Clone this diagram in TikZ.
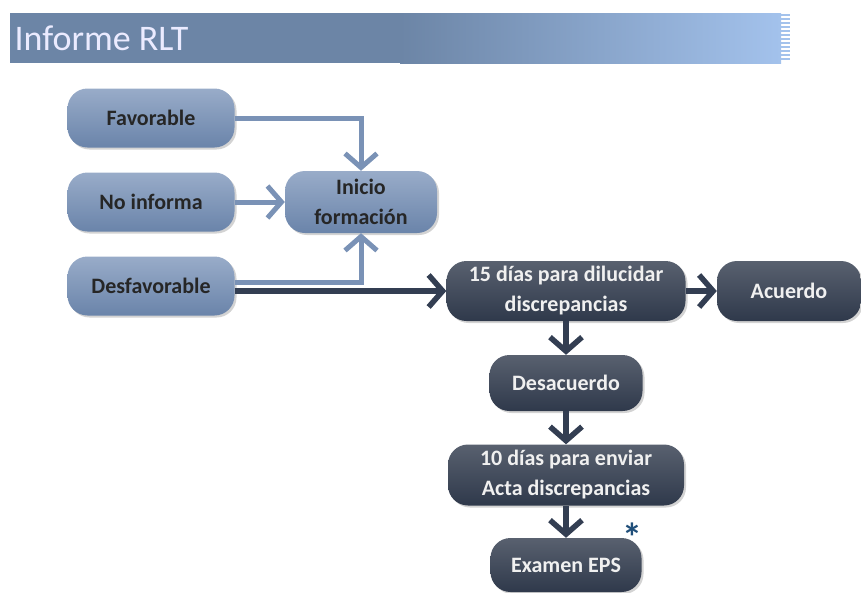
\documentclass[tikz,border=0pt]{standalone}
\usepackage{fontspec}
\setmainfont{Carlito}
\usetikzlibrary{shapes.geometric, arrows.meta, shadows}
\definecolor{lightfill}{HTML}{7F97BB}
\definecolor{lightedge}{HTML}{6A84AA}
\definecolor{lightline}{HTML}{7A92B6}
\definecolor{darkfill}{HTML}{2F394B}
\definecolor{darkline}{HTML}{333E52}
\definecolor{bartop}{HTML}{6C85A6}
\definecolor{barend}{HTML}{A3C2EC}
\definecolor{starblue}{HTML}{1F4E79}
\tikzstyle{lightbox} = [rectangle, rounded corners=20pt,
minimum width=167pt,
minimum height=59pt,
text centered,
align=center,
font=\bfseries\fontsize{22}{30}\selectfont,
text=black!85,
top color=lightfill!80!white,
bottom color=lightedge,
drop shadow={opacity=0.35, shadow xshift=2pt, shadow yshift=-2pt}]
\tikzstyle{darkbox} = [rectangle, rounded corners=20pt,
minimum width=150pt,
minimum height=60pt,
text centered,
align=center,
font=\bfseries\fontsize{22}{30}\selectfont,
text=white!94!black,
top color=darkfill!80!white,
bottom color=darkfill,
drop shadow={opacity=0.35, shadow xshift=2pt, shadow yshift=-2pt}]
\tikzstyle{lightarrow} = [line width=5pt,->,>={Straight Barb[length=14pt,width=32pt]}, draw=lightline]
\tikzstyle{darkarrow} = [line width=5.5pt,->,>={Straight Barb[length=14pt,width=32pt]}, draw=darkline]

\begin{document}
\begin{tikzpicture}[x=1pt, y=-1pt, node distance=84pt]
\useasboundingbox (0,0) rectangle (861,592);

% title bar
\fill [bartop] (10,13) rectangle (400,63);
\shade [left color=bartop, right color=barend] (400,13) rectangle (781,63);
\foreach \y in {15,19,...,59}
  \draw [barend, line width=1.6pt] (781,\y) -- (790,\y);
\node (title) [anchor=west, text=white!92!blue, font=\fontsize{36}{40}\selectfont] at (11,38) {Informe RLT};

\node (fav) [lightbox] at (151,118) {Favorable};
\node (noinf) [lightbox, below of=fav] {No informa};
\node (desf) [lightbox, below of=noinf] {Desfavorable};
\node (inicio) [lightbox, right of=noinf, xshift=126pt, minimum width=152pt, minimum height=62pt] {Inicio\\formación};
\node (dias15) [darkbox, right of=desf, xshift=331pt, yshift=-5pt, minimum width=239pt] {15 días para dilucidar\\discrepancias};
\node (acuerdo) [darkbox, right of=dias15, xshift=139pt, minimum width=144pt] {Acuerdo};
\node (desac) [darkbox, below of=dias15, yshift=-8pt, minimum width=153pt, minimum height=56pt] {Desacuerdo};
\node (dias10) [darkbox, below of=desac, yshift=-8pt, minimum width=236pt, minimum height=61pt] {10 días para enviar\\Acta discrepancias};
\node (examen) [darkbox, below of=dias10, yshift=-6pt, minimum width=151pt, minimum height=54pt] {Examen EPS};
\node (ast) [text=starblue, font=\bfseries\fontsize{40}{40}\selectfont] at (632,537) {*};

\draw [lightarrow] (fav.east) -| (inicio.north);
\draw [lightarrow] (noinf) -- (inicio);
\draw [lightarrow] ([yshift=4pt]desf.east) -| (inicio.south);
\draw [darkarrow] ([yshift=-5pt]desf.east) -- (dias15);
\draw [darkarrow] (dias15) -- (acuerdo);
\draw [darkarrow] (dias15) -- (desac);
\draw [darkarrow] (desac) -- (dias10);
\draw [darkarrow] (dias10) -- (examen);
\end{tikzpicture}
\end{document}
